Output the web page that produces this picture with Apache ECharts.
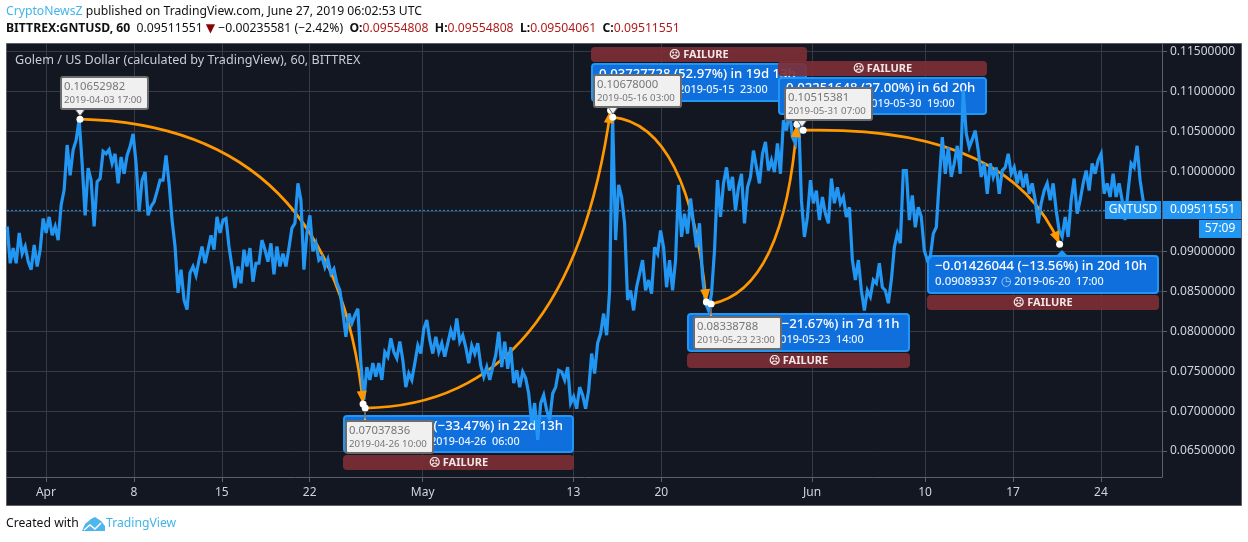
<!DOCTYPE html>
<html>
<head>
<meta charset="utf-8">
<style>
html,body{margin:0;padding:0;background:#fff;}
#chart{width:1248px;height:542px;}
</style>
<script src="https://cdn.jsdelivr.net/npm/echarts@6/dist/echarts.min.js"></script>
</head>
<body>
<div id="chart"></div>
<script>
// GNTUSD prices, one reading every 3 pixels
var priceStart = '2019-03-28 22:00';
var priceStepHours = 5.727;

var pricesApril = [
	.0931,.0885,.0904,.0885,.0923,.0897,.0906,.0887,.0877,.0908,.0881,.0902,.0941,.0923,.0943,.0920,.0931,.0914,.0958,.0977,
	.1033,.0995,.1027,.1039,.1065,.1010,.0945,.1004,.0989,.0931,.0987,.0991,.1025,.1022,.1027,.1010,.1022,.0985,.1018,.0997,
	.1020,.1031,.1047,.1010,.0950,.0989,.0999,.0945,.0956,.0962,.0975,.0989,.0989,.1020,.0985,.0939,.0906,.0848,.0877,.0839,
	.0827,.0873,.0881,.0870,.0889,.0906,.0885,.0902,.0920,.0902,.0943,.0923,.0939,.0941,.0906,.0881,.0854,.0881,.0860,.0902,
	.0881,.0904,.0862,.0885,.0885,.0914,.0902,.0887,.0910,.0871,.0906,.0881,.0897,.0881,.0904,.0929,.0935,.0985,.0964,.0877,
	.0923,.0945,.0900,.0910,.0889,.0893,.0880,.0890,.0872,.0878,.0860
];
var pricesMay = [
	.0851,.0824,.0793,.0822,.0810,.0820,.0828,.0760,.0714,.0755,.0739,.0760,.0743,.0760,.0739,.0774,.0768,.0791,.0774,.0766,
	.0787,.0764,.0730,.0747,.0739,.0760,.0782,.0772,.0803,.0814,.0789,.0772,.0793,.0774,.0785,.0768,.0785,.0801,.0789,.0816,
	.0787,.0795,.0780,.0760,.0782,.0772,.0785,.0757,.0743,.0755,.0739,.0755,.0770,.0799,.0755,.0787,.0753,.0780,.0735,.0751,
	.0730,.0749,.0741,.0722,.0685,.0710,.0664,.0710,.0720,.0701,.0689,.0722,.0730,.0751,.0749,.0739,.0755,.0710,.0718,.0703,
	.0730,.0720,.0703,.0726,.0772,.0747,.0785,.0797,.0822,.0795,.0851
];
var pricesLateMay = [
	.1068,.0914,.0983,.0968,.0935,.0839,.0851,.0826,.0855,.0872,.0889,.0851,.0864,.0847,.0905,.0897,.0926,.0905,.0855,.0889,
	.0851,.0889,.0983,.0918,.0947,.0922,.0966,.0935,.0905,.0935,.0868,.0835,.0826,.0847,.0901,.0989,.0943,.0985,.1005,.0976,
	.0993,.0951,.0980,.0997,.0935,.0980,.0993,.1026,.1005,.0985,.1022,.1037,.1001,.1014,.0999,.1035,.0997,.1064,.1051,.1076,
	.1043,.1035,.1076,.0964,.0918,.0943,.0989,.0960,.0976,.0939,.0968,.0947,.0935,.0991,.0960,.0980,.0960,.0968,.0943,.0955,
	.0889,.0864,.0889,.0851,.0826,.0851,.0843,.0864,.0860,.0885,.0855,.0851,.0835,.0864,.0905,.0922,.0910,.1001,.1001,.0939,
	.0970,.0930,.0955
];
var pricesJune = [
	.0943,.0901,.0889,.0893,.0922,.0930,.0989,.1043,.0997,.1030,.0993,.1010,.1032,.0997,.1101,.1047,.1030,.1040,.1051,.1026,
	.0993,.1010,.0972,.1010,.0993,.1005,.0972,.1001,.1005,.1022,.0997,.1005,.0985,.1001,.0980,.0997,.0972,.0985,.0964,.0935,
	.0960,.0976,.0985,.0964,.0985,.0951,.0926,.0918,.0943,.0918,.0964,.0991,.0947,.0964,.0985,.1001,.0976,.1010,.0997,.1014,
	.1022,.0972,.0985,.0968,.0997,.0968,.0985,.0964,.0939,.0976,.1010,.1005,.1032,.0989,.0964,.0951,.09512
];

var lastPrice = 0.09511551;

// orange swings: start, bend, end as [time, price]
var swingDown1 = [['2019-04-03 17:00',.10653],['2019-04-24 00:00',.10575],['2019-04-26 06:00',.07088]];
var swingUp1 = [['2019-04-26 10:00',.07038],['2019-05-12 16:30',.07075],['2019-05-15 23:00',.10766]];
var swingDown2 = [['2019-05-16 03:00',.10678],['2019-05-22 05:30',.10575],['2019-05-23 14:00',.08364]];
var swingUp2 = [['2019-05-23 23:00',.08339],['2019-05-29 19:00',.08513],['2019-05-30 19:00',.1059]];
var swingDown3 = [['2019-05-31 07:00',.10515],['2019-06-16 16:30',.10575],['2019-06-20 17:00',.09089]];
var pivotTimes = ['2019-04-03 17:00','2019-04-26 06:00','2019-04-26 10:00','2019-05-15 23:00','2019-05-16 03:00','2019-05-23 14:00','2019-05-23 23:00','2019-05-30 19:00','2019-05-31 07:00','2019-06-20 17:00'];
var pivotPrices = [.10653,.07088,.07038,.10766,.10678,.08364,.08339,.1059,.10515,.09089];

var xTickDates = ['2019-04-01 00:00','2019-04-08 00:00','2019-04-15 00:00','2019-04-22 00:00','2019-05-01 00:00','2019-05-13 00:00','2019-05-20 00:00','2019-06-01 00:00','2019-06-10 00:00','2019-06-17 00:00','2019-06-24 00:00'];
var xTickLabels = ['Apr','8','15','22','May','13','20','Jun','10','17','24'];
var yTicks = [.065,.07,.075,.08,.085,.09,.095,.1,.105,.11,.115];

var PANE = '#131722';
var FRAME = '#5d606b';
var GRID = '#363a45';
var BLUE = '#2196f3';
var ORANGE = '#ff9800';
var BOX = '#0f6fdc';
var RED = '#7c2f36';
var FONT = '"Noto Sans"';

function toTime(s){
	return Date.parse(s.replace(' ','T')+':00Z');
}

function pricePoints(){
	var all = pricesApril.concat(pricesMay,pricesLateMay,pricesJune);
	var start = toTime(priceStart);
	return all.map(function(p,i){
		return [start+i*priceStepHours*3600000,p];
	});
}

function swingRow(swing){
	var row = [];
	swing.forEach(function(p){
		row.push(toTime(p[0]),p[1]);
	});
	return row;
}

function renderSwing(params,api){
	var p0 = api.coord([api.value(0),api.value(1)]);
	var c = api.coord([api.value(2),api.value(3)]);
	var p1 = api.coord([api.value(4),api.value(5)]);
	return {
		type:'bezierCurve',
		shape:{x1:p0[0],y1:p0[1],x2:p1[0],y2:p1[1],cpx1:c[0],cpy1:c[1]},
		style:{stroke:ORANGE,lineWidth:2.7,fill:null}
	};
}

function renderArrow(params,api){
	var c = api.coord([api.value(2),api.value(3)]);
	var p1 = api.coord([api.value(4),api.value(5)]);
	var dx = p1[0]-c[0], dy = p1[1]-c[1];
	var len = Math.sqrt(dx*dx+dy*dy);
	var ux = dx/len, uy = dy/len;
	var bx = p1[0]-ux*13, by = p1[1]-uy*13;
	return {
		type:'polygon',
		shape:{points:[[p1[0],p1[1]],[bx-uy*5,by+ux*5],[bx+uy*5,by-ux*5]]},
		style:{fill:ORANGE}
	};
}

function txt(x,y,text,font,fill,align,z){
	return {
		type:'text',z:z||11,silent:true,
		style:{x:x,y:y,text:text,font:font,fill:fill,align:align||'left',verticalAlign:'middle'}
	};
}

// blue result box with its red FAILURE bar
function callout(x,y,w,h,barY,line1,value,date){
	return [
		{type:'rect',z:1,silent:true,shape:{x:x,y:y,width:w,height:h,r:3},style:{fill:BOX,stroke:BLUE,lineWidth:2}},
		txt(x+7,y+10,line1,'500 13.2px '+FONT,'#fff','left',1),
		{type:'text',z:1,silent:true,style:{x:x+7,y:y+26,verticalAlign:'middle',
			text:'{a|'+value+'} {b|◷}{c|'+date+'}',
			rich:{
				a:{font:'500 11.5px '+FONT,fill:'#e8f2ff'},
				b:{font:'12px "DejaVu Sans"',fill:'#a9cdf5'},
				c:{font:'500 10.8px '+FONT,fill:'#e8f2ff',padding:[0,0,0,3]}
			}}},
		{type:'rect',z:2,silent:true,shape:{x:x-1,y:barY,width:w+2,height:15,r:4},style:{fill:RED,opacity:0.92}},
		txt(x+w/2,barY+8,'☹ FAILURE','bold 11px '+FONT,'#f3e6e6','center',2)
	];
}

// grey price note next to a pivot
function note(x,y,tipX,tipY,value,date){
	var w = 87, h = 32;
	return [
		{type:'polygon',z:10,silent:true,shape:{points:[[tipX-5,y+h],[tipX+5,y+h],[tipX,tipY]]},style:{fill:'#f0f0f0',stroke:'#6c6c6c',lineWidth:1}},
		{type:'rect',z:10,silent:true,shape:{x:x,y:y,width:w,height:h,r:2},style:{fill:'#f0f0f0',stroke:'#6c6c6c',lineWidth:2}},
		txt(x+3,y+10,value,'11.3px '+FONT,'#767676','left',11),
		txt(x+3,y+23,date,'9.7px '+FONT,'#767676','left',11)
	];
}

function pageGraphics(){
	var g = [
		{type:'rect',z:-1,silent:true,shape:{x:6.5,y:43.5,width:1235,height:462},style:{fill:PANE,stroke:FRAME,lineWidth:1}},
		{type:'text',z:11,silent:true,style:{x:6,y:12,verticalAlign:'middle',
			text:'{c|CryptoNewsZ}{k| published on TradingView.com, June 27, 2019 06:02:53 UTC}',
			rich:{c:{font:'12.2px '+FONT,fill:'#42b4ea'},k:{font:'12.2px '+FONT,fill:'#111'}}}},
		{type:'text',z:11,silent:true,style:{x:6,y:29,verticalAlign:'middle',
			text:'{b|BITTREX:GNTUSD, 60}{k|  0.09511551 }{r|▼}{k| −0.00235581 (−2.42%)  }{b|O:}{v|0.09554808}{b|  H:}{v|0.09554808}{b|  L:}{v|0.09504061}{b|  C:}{v|0.09511551}',
			rich:{
				b:{font:'bold 12.2px '+FONT,fill:'#111'},
				k:{font:'12.2px '+FONT,fill:'#111'},
				r:{font:'12.2px "DejaVu Sans"',fill:'#8b0000'},
				v:{font:'12.2px '+FONT,fill:'#b01c1c'}
			}}},
		txt(15,60,'Golem / US Dollar (calculated by TradingView), 60, BITTREX','12.6px '+FONT,'#c8ccd4','left',1),
		txt(6,524,'Created with','12.2px '+FONT,'#111'),
		{type:'polygon',z:11,silent:true,shape:{points:[[82,531],[85,524],[91,519],[95,517],[101,521],[105,526],[105,531]]},style:{fill:'#4fb6ec'}},
		{type:'polyline',z:12,silent:true,shape:{points:[[84,530],[90,525],[95,529],[101,523]]},style:{stroke:'#fff',lineWidth:1.5,fill:null}},
		txt(106,524,'TradingView','12.2px '+FONT,'#42b4ea'),
		// last price tags on the right edge
		{type:'rect',z:12,silent:true,shape:{x:1105,y:201,width:56,height:18},style:{fill:BLUE}},
		txt(1133,210,'GNTUSD','12px '+FONT,'#fff','center',13),
		{type:'rect',z:12,silent:true,shape:{x:1163,y:201,width:78,height:18},style:{fill:BLUE}},
		txt(1170,210,'0.09511551','12px '+FONT,'#fff','left',13),
		{type:'rect',z:12,silent:true,shape:{x:1199,y:220,width:42,height:18},style:{fill:BLUE}},
		txt(1220,229,'57:09','12px '+FONT,'#fff','center',13)
	];
	g = g.concat(
		callout(344,416,229,36,455,'−0.03565146 (−33.47%) in 22d 13h','0.07087836','2019-04-26  06:00'),
		callout(592,64,214,37,47,'0.03727728 (52.97%) in 19d 13h','0.10765564','2019-05-15  23:00'),
		callout(688,314,221,37,353,'−0.02314000 (−21.67%) in 7d 11h','0.08364000','2019-05-23  14:00'),
		callout(779,78,207,36,61,'0.02251648 (27.00%) in 6d 20h','0.10590436','2019-05-30  19:00'),
		callout(928,256,230,37,295,'−0.01426044 (−13.56%) in 20d 10h','0.09089337','2019-06-20  17:00'),
		note(61,77,80,116,'0.10652982','2019-04-03 17:00'),
		note(346,421,365,411,'0.07037836','2019-04-26 10:00'),
		note(594,75,613,114,'0.10678000','2019-05-16 03:00'),
		note(694,317,711,307,'0.08338788','2019-05-23 23:00'),
		note(785,88,802,127,'0.10515381','2019-05-31 07:00')
	);
	g.push({type:'polygon',z:2,silent:true,shape:{points:[[1056,256],[1068,256],[1062,250]]},style:{fill:BLUE}});
	return g;
}

function renderChart(){
	var myChart = echarts.init(document.getElementById('chart'),null,{renderer:'canvas'});
	var pivots = pivotTimes.map(function(t,i){return [toTime(t),pivotPrices[i]];});
	var xTicks = xTickDates.map(toTime);
	var xMin = toTime('2019-03-28 21:36');
	var xMax = toTime('2019-06-28 20:40');
	var swings = [swingDown1,swingUp1,swingDown2,swingUp2,swingDown3].map(swingRow);
	myChart.setOption({
		animation:false,
		backgroundColor:'#fff',
		grid:{left:7,top:44,width:1155,height:433,show:false},
		xAxis:{
			type:'value',
			min:xMin,
			max:xMax,
			axisLine:{show:true,onZero:false,lineStyle:{color:FRAME,width:1}},
			axisTick:{show:true,length:5,lineStyle:{color:FRAME},customValues:xTicks},
			axisLabel:{
				customValues:xTicks,
				color:'#d1d4dc',
				fontFamily:FONT,
				fontSize:12,
				margin:10,
				formatter:function(v){
					return xTickLabels[xTicks.indexOf(v)];
				}
			},
			splitLine:{show:true,lineStyle:{color:GRID,width:1}}
		},
		yAxis:{
			type:'value',
			position:'right',
			min:0.06175,
			max:0.11594,
			axisLine:{show:true,onZero:false,lineStyle:{color:FRAME,width:1}},
			axisTick:{show:true,length:5,lineStyle:{color:FRAME},customValues:yTicks},
			axisLabel:{
				customValues:yTicks,
				color:'#d1d4dc',
				fontFamily:FONT,
				fontSize:12,
				margin:8,
				formatter:function(v){return v.toFixed(8);}
			},
			splitLine:{show:true,lineStyle:{color:GRID,width:1}}
		},
		series:[
			{
				type:'line',
				data:[[xMin,lastPrice],[xMax,lastPrice]],
				symbol:'none',
				z:2,
				silent:true,
				lineStyle:{color:BLUE,width:1,type:[2,2]}
			},
			{
				type:'custom',
				coordinateSystem:'cartesian2d',
				data:swings,
				renderItem:renderSwing,
				encode:{x:[0,2,4],y:[1,3,5]},
				z:3,
				silent:true
			},
			{
				type:'line',
				data:pricePoints(),
				symbol:'none',
				z:4,
				silent:true,
				lineStyle:{color:BLUE,width:3.2,join:'miter',miterLimit:4}
			},
			{
				type:'custom',
				coordinateSystem:'cartesian2d',
				data:swings,
				renderItem:renderArrow,
				encode:{x:[0,2,4],y:[1,3,5]},
				z:5,
				silent:true
			},
			{
				type:'scatter',
				data:pivots,
				symbol:'circle',
				symbolSize:7,
				z:6,
				silent:true,
				itemStyle:{color:'#fff',opacity:1}
			}
		],
		graphic:pageGraphics()
	});
}

renderChart();
</script>
</body>
</html>
